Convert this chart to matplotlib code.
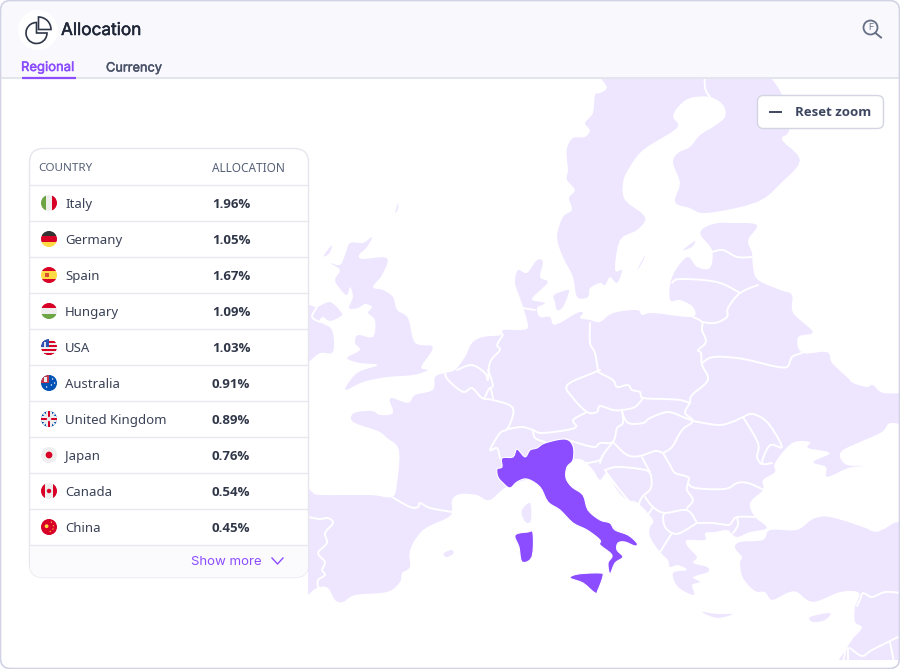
import numpy as np
import matplotlib
matplotlib.use("Agg")
import matplotlib.pyplot as plt
import matplotlib.patheffects as pe
from matplotlib.patches import Circle, FancyBboxPatch, Polygon, Rectangle, Wedge

countries = ["Italy", "Germany", "Spain", "Hungary", "USA", "Australia",
             "United Kingdom", "Japan", "Canada", "China"]
allocations = ["1.96%", "1.05%", "1.67%", "1.09%", "1.03%", "0.91%",
               "0.89%", "0.76%", "0.54%", "0.45%"]

# map shapes
europe = [(300,490),(312,492),(320,495),(370,495),(392,497),(397,483),(399,450),(387,438),(378,431),(353,422),(354,413),(372,411),(380,415),(393,413),(390,398),(408,403),(415,395),(433,390),(435,377),(445,373),(455,370),(465,357),(472,343),(483,337),(502,335),(503,330),(520,330),(528,327),(524,310),(520,298),(515,283),(518,270),(527,273),(537,260),(543,262),(540,277),(548,282),(537,293),(532,300),(545,303),(537,308),(540,317),(550,317),(555,325),(577,313),(583,313),(580,318),(590,320),(600,322),(613,313),(637,310),(642,315),(653,313),(692,317),(693,307),(680,300),(670,300),(672,277),(687,257),(697,267),(710,268),(712,250),(700,233),(713,224),(733,223),(757,225),(748,240),(752,253),(753,267),(758,280),(780,290),(792,295),(793,313),(813,332),(798,337),(802,353),(827,352),(832,363),(848,378),(853,383),(867,387),(873,385),(883,393),(910,396),(910,423),(890,423),(882,432),(860,442),(843,450),(840,457),(847,465),(863,466),(848,468),(827,477),(826,467),(813,462),(830,453),(808,448),(810,442),(792,443),(775,463),(775,472),(763,480),(763,490),(750,503),(755,517),(767,528),(750,532),(738,537),(733,535),(727,530),(715,532),(705,533),(705,540),(687,540),(688,547),(697,557),(693,563),(707,567),(708,572),(693,577),(700,582),(692,585),(694,595),(678,587),(673,573),(687,570),(678,565),(670,567),(668,560),(660,552),(650,537),(650,527),(653,520),(638,503),(627,500),(617,490),(607,473),(600,480),(593,470),(583,460),(573,460),(560,470),(510,485),(490,500),(477,495),(460,494),(452,500),(452,512),(447,518),(423,530),(410,550),(410,567),(402,573),(400,582),(387,592),(355,595),(343,602),(335,600),(328,588),(318,587),(300,590)]
scandinavia = [(595,95),(600,93),(607,87),(607,65),(760,65),(772,79),(782,95),(790,120),(788,133),(782,140),(800,160),(782,182),(757,202),(707,213),(690,208),(675,202),(680,183),(673,163),(678,153),(690,147),(700,135),(713,127),(725,117),(723,105),(710,97),(690,98),(678,107),(673,117),(677,128),(643,150),(628,170),(623,183),(625,200),(645,217),(637,230),(620,240),(615,270),(622,270),(617,283),(610,277),(605,285),(600,283),(590,288),(588,297),(577,297),(573,277),(563,257),(557,237),(563,217),(572,210),(569,198),(575,190),(567,180),(568,170),(567,160),(567,148),(573,138),(585,137),(590,130),(585,123),(593,113)]
britain = [(372,237),(367,247),(359,255),(363,259),(387,258),(382,275),(373,287),(383,290),(393,297),(397,310),(408,318),(415,343),(433,347),(421,367),(428,370),(413,375),(387,377),(363,382),(345,390),(357,373),(378,365),(360,363),(347,358),(360,350),(355,343),(358,335),(373,337),(375,320),(368,313),(372,307),(365,304),(358,308),(349,308),(353,297),(350,287),(347,295),(341,290),(335,280),(340,270),(330,263),(340,265),(345,255),(350,243),(363,243)]
ireland = [(290,305),(308,305),(317,307),(330,302),(341,312),(341,316),(330,321),(323,317),(320,322),(332,330),(333,352),(320,353),(308,362),(290,370)]
turkey = [(770,530),(797,530),(813,519),(830,517),(863,527),(877,532),(910,531),(910,675),(838,675),(850,643),(862,628),(855,622),(855,607),(858,600),(858,592),(840,592),(813,602),(797,592),(787,593),(772,600),(765,592),(755,591),(743,578),(740,563),(742,557),(735,548),(740,542),(763,540)]
denmark_island = [(554,295),(567,290),(569,292),(563,307),(557,310),(555,302)]
corsica = [(522,510),(530,503),(531,520),(527,523),(523,518)]
balearic = [(444,553),(452,550),(453,554),(446,557)]
crete = [(702,612),(717,614),(733,614),(717,618)]
cyprus = [(810,617),(830,613),(825,620),(813,622)]
gotland = [(637,270),(645,255),(642,263)]
saaremaa = [(683,250),(695,241),(692,247)]
hebrides = [(324,255),(332,245),(330,252),(326,256)]
orkney = [(395,213),(398,203),(398,209)]

italy = [(573,446),(573,460),(567,467),(566,478),(572,487),(583,495),(588,510),(600,520),(610,523),(615,530),(628,535),(637,543),(635,546),(625,542),(618,543),(617,550),(623,557),(615,563),(610,574),(608,563),(612,555),(600,545),(600,540),(587,530),(573,523),(560,510),(548,502),(540,487),(527,479),(517,482),(510,488),(503,483),(498,477),(497,469),(502,467),(502,458),(513,457),(517,449),(525,457),(530,450),(537,448),(545,443),(565,439)]
sardinia = [(515,535),(528,532),(533,533),(532,557),(522,562),(519,547)]
sicily = [(570,578),(578,574),(600,573),(603,576),(598,590),(595,593),(583,583)]

borders = [
    [(392,497),(410,507),(418,507),(420,503),(430,508),(452,512)],
    [(308,517),(320,519),(328,518),(333,523),(325,533),(327,543),(318,553),(325,562),(322,570),(325,575),(318,580),(318,587)],
    [(445,373),(448,380),(463,392),(472,388),(482,398),(493,400),(513,408),(508,428),(500,433),(490,450),(497,448),(500,458)],
    [(485,397),(490,388),(493,398)],
    [(457,370),(472,365),(485,373),(488,380),(490,362),(500,350),(497,345),(503,335)],
    [(488,370),(493,385),(490,388)],
    [(522,308),(535,310)],
    [(590,323),(590,343),(595,353),(598,370),(600,373),(613,380),(617,387),(628,385),(632,390),(640,392),(643,398),(665,399),(680,400),(690,403)],
    [(690,403),(692,395),(708,380),(702,365),(701,353),(698,350),(706,342),(702,330),(702,322),(693,317)],
    [(702,322),(715,323),(727,317),(728,308),(740,293),(758,285)],
    [(672,283),(680,279),(717,282),(740,293)],
    [(712,252),(723,250),(737,257),(752,257)],
    [(702,363),(713,357),(737,358),(757,362),(773,366),(787,367),(792,357),(802,353)],
    [(643,398),(635,407),(622,410),(613,410),(600,406),(597,412),(587,412),(573,398),(567,385),(593,373),(600,370)],
    [(587,412),(573,420),(575,428),(543,433),(533,430),(522,427),(508,429)],
    [(533,430),(535,438),(545,442)],
    [(565,439),(593,447),(600,443),(613,442),(617,428),(623,423),(622,410)],
    [(622,412),(628,423),(643,423),(650,418),(668,412),(683,417),(693,421)],
    [(690,403),(685,413),(693,421),(682,430),(672,447),(663,453)],
    [(613,442),(627,455),(640,456),(655,451),(663,453)],
    [(613,442),(603,455),(600,463)],
    [(573,460),(585,463),(593,462),(600,460),(603,455)],
    [(605,470),(617,467),(640,469),(650,473),(651,488),(642,497),(638,507)],
    [(605,470),(612,480),(628,500),(638,507)],
    [(642,457),(645,463),(650,472)],
    [(663,453),(670,465),(675,473),(688,477),(688,483),(687,490),(693,500),(687,508)],
    [(645,497),(653,507),(665,513),(687,510),(697,523)],
    [(653,507),(648,515)],
    [(665,513),(663,517),(665,527),(672,533),(680,533),(697,523)],
    [(672,533),(660,552)],
    [(688,483),(695,488),(725,489),(737,483),(748,483),(762,489)],
    [(697,523),(713,523),(728,525),(732,522),(737,517),(755,517)],
    [(737,517),(738,525),(733,533)],
    [(743,417),(758,443),(757,457),(761,464)],
    [(693,421),(718,425),(732,422),(743,417),(753,414),(768,423),(782,447),(770,445),(762,463),(772,463)],
    [(857,606),(860,600),(863,593),(872,597),(885,592),(900,593)],
    [(850,648),(862,656),(872,650),(898,637)],
    [(890,642),(894,662)],
    [(847,643),(843,662)],
    [(848,648),(848,662)],
    [(705,70),(705,88),(710,97)],
    [(317,307),(312,317),(320,322)],
]

PURPLE = "#8B4DFF"
LAND = "#EEE5FF"
DARK = "#2F3648"


def smooth(pts, closed=True, steps=4):
    # catmull-rom through the traced points so the coast doesn't look polygonal
    pts = np.array(pts, dtype=float)
    if closed:
        p = np.vstack([pts[-1], pts, pts[0], pts[1]])
    else:
        p = np.vstack([pts[0], pts, pts[-1]])
    out = []
    for i in range(1, len(p) - 2):
        for t in np.linspace(0, 1, steps, endpoint=False):
            out.append(0.5 * (2 * p[i] + (p[i + 1] - p[i - 1]) * t
                              + (2 * p[i - 1] - 5 * p[i] + 4 * p[i + 1] - p[i + 2]) * t ** 2
                              + (3 * p[i] - p[i - 1] - 3 * p[i + 1] + p[i + 2]) * t ** 3))
    out.append(p[-2])
    return np.array(out)


def medium(txt, color):
    # the installed fonts have no medium weight, a thin stroke fakes it
    txt.set_path_effects([pe.withStroke(linewidth=0.35, foreground=color)])
    return txt


fig = plt.figure(figsize=(9, 6.69), dpi=100)
ax = fig.add_axes([0, 0, 1, 1])
ax.set_xlim(0, 900)
ax.set_ylim(669, 0)
ax.axis("off")

card = FancyBboxPatch((0.5, 0.5), 899, 668, boxstyle="round,pad=0,rounding_size=10",
                      fc="white", ec="none", zorder=0)
ax.add_patch(card)

map_clip = Rectangle((308, 79), 591, 581, transform=ax.transData, fc="none", ec="none")
ax.add_patch(map_clip)

light_shapes = [europe, scandinavia, britain, ireland, turkey, denmark_island, corsica,
                balearic, crete, cyprus, gotland, saaremaa, hebrides, orkney]
for shape in light_shapes:
    p = Polygon(smooth(shape), closed=True, fc=LAND, ec="none", zorder=1)
    ax.add_patch(p)
    p.set_clip_path(map_clip)

for line in borders:
    xy = smooth(line, closed=False)
    l, = ax.plot(xy[:, 0], xy[:, 1], color="white", lw=1.4, solid_capstyle="round", zorder=2)
    l.set_clip_path(map_clip)

for shape in [italy, sardinia, sicily]:
    ax.add_patch(Polygon(smooth(shape), closed=True, fc=PURPLE, ec="white", lw=0.8, zorder=3))

# header
head = Rectangle((0, 0), 900, 78, fc="#F8F8FD", ec="none", zorder=4)
ax.add_patch(head)
head.set_clip_path(card)
ax.plot([1, 899], [78.3, 78.3], color="#E1E3EC", lw=1.3, zorder=5)
ax.add_patch(Circle((38, 30), 20, fc="white", ec="none", zorder=5))
ax.add_patch(Wedge((36.5, 33), 10.5, 0, 270, fc="none", ec="#2F3648", lw=1.2, zorder=6))
ax.add_patch(Wedge((38.5, 29.5), 12.5, 270, 360, fc="white", ec="#2F3648", lw=1.2, zorder=6))
medium(ax.text(61, 30.5, "Allocation", family="Inter", fontsize=12.4, color="#1F2637",
               va="center", zorder=6), "#1F2637")
medium(ax.text(21, 68, "Regional", family="Inter", fontsize=9.4, color=PURPLE,
               va="center", zorder=6), PURPLE)
medium(ax.text(106, 68.5, "Currency", family="Inter", fontsize=9.2, color="#4A5268",
               va="center", zorder=6), "#4A5268")
ax.plot([21.5, 75.5], [77.5, 77.5], color=PURPLE, lw=1.6, solid_capstyle="butt", zorder=6)

# magnifier
ax.add_patch(Circle((870.5, 27.5), 7, fc="none", ec="#667085", lw=1.3, zorder=6))
ax.plot([875.5, 881], [33, 37.5], color="#667085", lw=1.4, zorder=6)
ax.text(870.5, 28, "F", family="Inter", fontsize=6.5, color="#667085", ha="center", va="center", zorder=6)

# reset button
ax.add_patch(FancyBboxPatch((757.5, 95.5), 126, 33, boxstyle="round,pad=0,rounding_size=6",
                            fc="white", ec="#D3D6E2", lw=1.0, zorder=6))
ax.plot([770, 781], [112, 112], color="#3D4660", lw=1.4, zorder=7)
ax.text(795, 113, "Reset zoom", family="Open Sans", fontsize=9.5, weight="bold", color="#3D4660",
        va="center", zorder=7)

# table card
table = FancyBboxPatch((29.5, 148.5), 279, 429, boxstyle="round,pad=0,rounding_size=14",
                       fc="white", ec="#E6E6EE", lw=1.0, zorder=6)
ax.add_patch(table)
foot = Rectangle((30, 545), 278, 33, fc="#FBFBFD", ec="none", zorder=6.1)
ax.add_patch(foot)
foot.set_clip_path(table)
ax.text(38, 168.5, "COUNTRY", family="Noto Sans", fontsize=8.4, color="#566077", va="center", zorder=8)
ax.text(212, 168.5, "ALLOCATION", family="Noto Sans", fontsize=8.5, color="#566077", va="center", zorder=8)
ax.plot([30, 308], [184.5, 184.5], color="#E8E8F0", lw=1, zorder=7)


def draw_flag(name, cx, cy, r=8):
    clip = Circle((cx, cy), r, fc="#EEEEEE", ec="none", zorder=7)
    ax.add_patch(clip)

    def box(x0, y0, x1, y1, c):
        p = Rectangle((cx + x0 * r, cy + y0 * r), (x1 - x0) * r, (y1 - y0) * r, fc=c, ec="none", zorder=7.1)
        ax.add_patch(p)
        p.set_clip_path(clip)

    def dot(x, y, s, c):
        ax.add_patch(Circle((cx + x * r, cy + y * r), s * r, fc=c, ec="none", zorder=7.3))

    if name == "Italy":
        box(-1, -1, -0.33, 1, "#6DA544")
        box(0.33, -1, 1, 1, "#D80027")
    elif name == "Germany":
        box(-1, -1, 1, -0.33, "#333333")
        box(-1, -0.33, 1, 0.33, "#D80027")
        box(-1, 0.33, 1, 1, "#FFDA44")
    elif name == "Spain":
        box(-1, -1, 1, -0.5, "#D80027")
        box(-1, -0.5, 1, 0.5, "#FFDA44")
        box(-1, 0.5, 1, 1, "#D80027")
        box(-0.45, -0.25, -0.05, 0.25, "#D8502D")
    elif name == "Hungary":
        box(-1, -1, 1, -0.33, "#D80027")
        box(-1, 0.33, 1, 1, "#6DA544")
    elif name == "USA":
        for k in range(4):
            box(-1, -0.75 + k * 0.5, 1, -0.5 + k * 0.5, "#D80027")
        box(-1, 0.75, 1, 1, "#D80027")
        box(-1, -1, 0, 0, "#2E52B2")
        box(-0.6, -0.6, -0.35, 0, "#DDE3F5")
    elif name == "Australia":
        box(-1, -1, 1, 1, "#0052B4")
        box(-1, -1, 0, 0, "#C8354B")
        box(-0.6, -0.8, -0.3, -0.1, "#EEEEEE")
        for x, y in [(0.45, -0.5), (0.7, 0.0), (0.3, 0.25), (-0.3, 0.5)]:
            dot(x, y, 0.09, "white")
    elif name == "United Kingdom":
        box(-1, -1, 1, 1, "#0052B4")
        for s in [1, -1]:
            xs = np.array([-1, 1]) * r + cx
            ys = np.array([-s, s]) * r + cy
            l, = ax.plot(xs, ys, color="#EEEEEE", lw=1.6, zorder=7.15)
            l.set_clip_path(clip)
        box(-1, -0.35, 1, 0.35, "#EEEEEE")
        box(-0.35, -1, 0.35, 1, "#EEEEEE")
        box(-1, -0.16, 1, 0.16, "#D80027")
        box(-0.16, -1, 0.16, 1, "#D80027")
    elif name == "Japan":
        dot(0, 0, 0.42, "#D80027")
    elif name == "Canada":
        box(-1, -1, -0.5, 1, "#D80027")
        box(0.5, -1, 1, 1, "#D80027")
        dot(0, 0, 0.28, "#D80027")
    elif name == "China":
        box(-1, -1, 1, 1, "#D80027")
        dot(-0.3, -0.1, 0.24, "#FFDA44")
        for x, y in [(0.3, -0.6), (0.55, -0.15), (0.5, 0.25), (0.15, 0.55)]:
            dot(x, y, 0.08, "#FFDA44")


for i, (name, alloc) in enumerate(zip(countries, allocations)):
    y = 203 + 36 * i
    draw_flag(name, 49, y)
    ax.text(65, y + 1.3, name, family="Noto Sans", fontsize=9.5, color="#3A4256", va="center", zorder=8)
    ax.text(212, y + 1, alloc, family="Open Sans", fontsize=9.5, weight="bold", color=DARK, va="center", zorder=8)
    ax.plot([30, 308], [y + 17.5, y + 17.5], color="#E8E8F0", lw=1, zorder=7)

ax.text(191, 562, "Show more", family="Inter", fontsize=9.5, color=PURPLE, va="center", zorder=8)
ax.plot([272, 277.5, 283], [558, 564, 558], color=PURPLE, lw=1.0, zorder=8)

# outer border of the whole card
ax.add_patch(FancyBboxPatch((0.5, 0.5), 899, 668, boxstyle="round,pad=0,rounding_size=10",
                            fc="none", ec="#D2D3E4", lw=1.2, zorder=9))

fig.savefig("out.png", dpi=100, facecolor="white")
